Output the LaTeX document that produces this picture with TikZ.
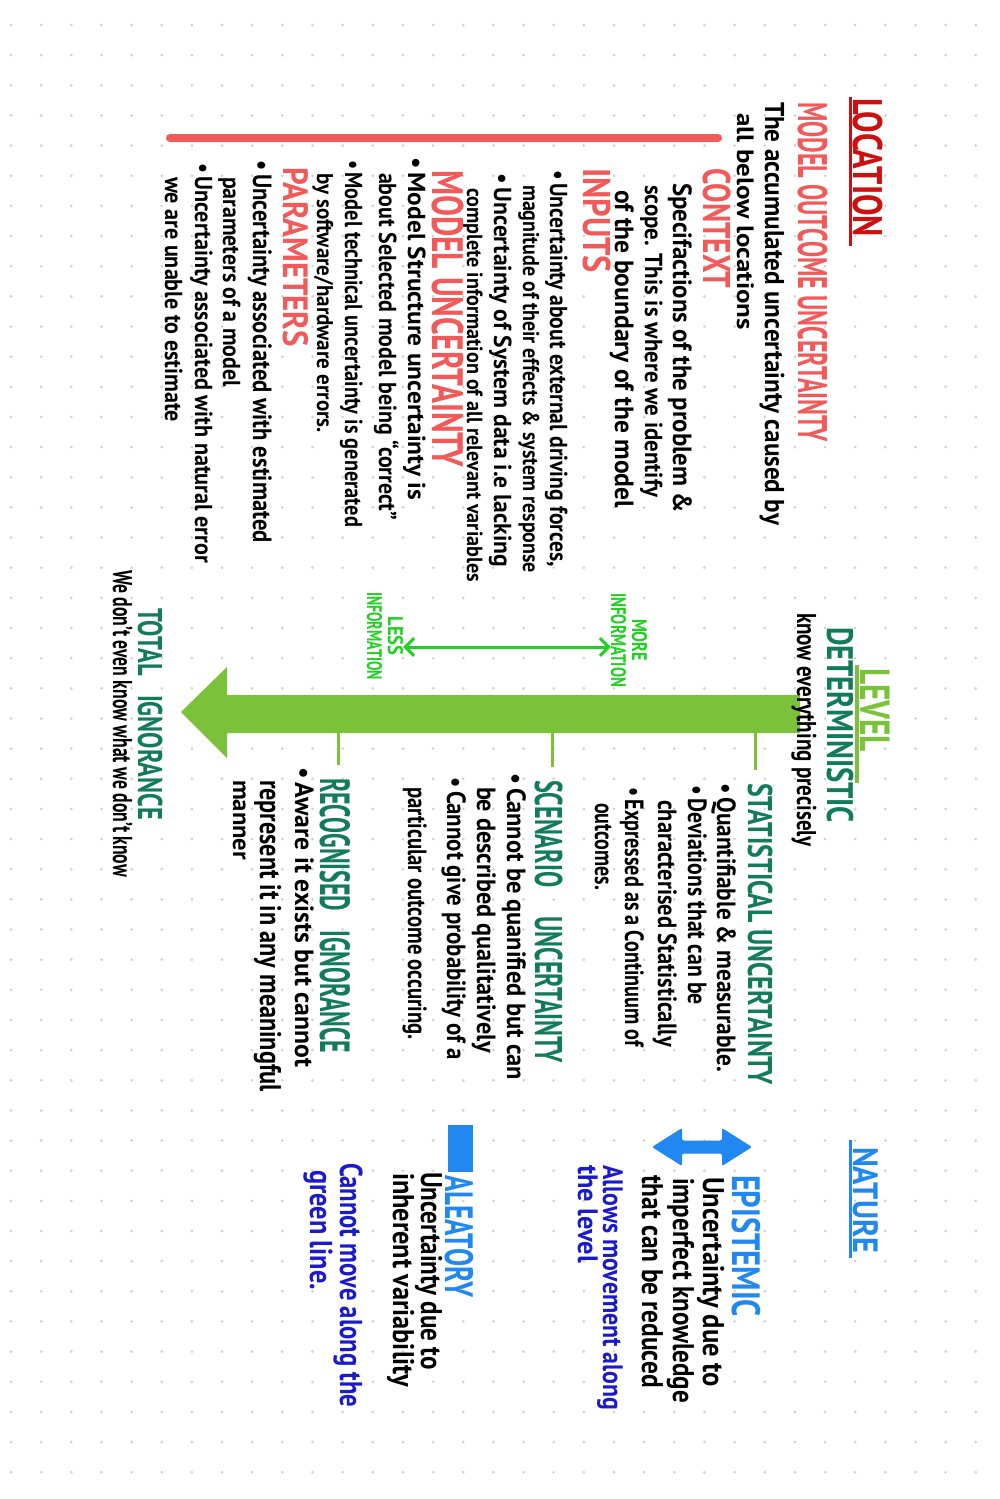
\documentclass[tikz,border=0pt]{standalone}
\usepackage{fontspec}
\setmainfont{PT Sans}
\usepackage{graphicx}
\usetikzlibrary{arrows.meta, calc}

\definecolor{locred}{HTML}{CC1010}
\definecolor{salmon}{HTML}{F25A5A}
\definecolor{lvlgreen}{HTML}{7BC23B}
\definecolor{lvlteal}{HTML}{127C5A}
\definecolor{infogreen}{HTML}{1FD21F}
\definecolor{natblue}{HTML}{2088F0}
\definecolor{darkblue}{HTML}{1A1ACC}
\definecolor{dotgray}{HTML}{D2D2D2}

% one pixel of the page
\newdimen\pxu \pxu=0.02cm
% squeeze a line to a given length (in pixels)
\newcommand{\fitw}[2]{\resizebox{#1\pxu}{\height}{#2}}

\tikzset{
  txt/.style={rotate=-90, anchor=base west, inner sep=0pt, outer sep=0pt},
  sz/.style={font=\fontsize{#1}{#1}\selectfont\bfseries},
  bsz/.style={font=\fontsize{#1}{#1}\selectfont\bfseries},
  tick/.style={lvlgreen, line width=3\pxu, shorten >=13\pxu}
}

\begin{document}
\begin{tikzpicture}[x=0.02cm, y=-0.02cm]
    % Page and dot grid
    \useasboundingbox (0,0) rectangle (1000,1499);
    \fill[white] (0,0) rectangle (1000,1499);
    \foreach \i in {0,...,32}
      \foreach \j in {0,...,48}
        \fill[dotgray] ({11+30.15*\i},{25+30.15*\j}) circle (0.03cm);

    % Location
    \node[txt, sz=23.5, text=locred] (loc) at (853,98) {\fitw{139}{LOCATION}};
    \draw[locred, line width=3\pxu] (850,97) -- (850,246);
    \node[txt, sz=23.5, text=salmon] (moutc) at (798,102) {\fitw{340}{MODEL OUTCOME UNCERTAINTY}};
    \node[txt, bsz=15.5] (moutcA) at (765,102) {\fitw{423}{The accumulated uncertainty caused by}};
    \node[txt, bsz=13.5] (moutcB) at (737,113) {\fitw{217}{all below locations}};
    \draw[salmon, line width=8\pxu, line cap=round] (170,138) -- (718,138);

    \node[txt, sz=22, text=salmon] (ctx) at (703,168) {\fitw{120}{CONTEXT}};
    \node[txt, bsz=15] (ctxA) at (673,183) {\fitw{330}{Specifactions of the problem \&}};
    \node[txt, bsz=14] (ctxB) at (645,185) {\fitw{312}{scope. This is where we identify}};
    \node[txt, bsz=15] (ctxC) at (615,190) {\fitw{318}{of the boundary of the model}};

    \node[txt, sz=22, text=salmon] (inp) at (583,168) {\fitw{105}{INPUTS}};
    \node[txt, bsz=14] (inpA) at (550,170) {\fitw{397}{\textbullet\,Uncertainty about external driving forces,}};
    \node[txt, bsz=13] (inpB) at (523,185) {\fitw{388}{magnitude of their effects \& system response}};
    \node[txt, bsz=14] (inpC) at (494,173) {\fitw{394}{\textbullet\,Uncertainty of System data i.e lacking}};
    \node[txt, bsz=12.5] (inpD) at (467,188) {\fitw{394}{complete information of all relevant variables}};

    \node[txt, sz=25, text=salmon] (mdl) at (432,170) {\fitw{297}{MODEL UNCERTAINTY}};
    \node[txt, bsz=14] (mdlA) at (408,157) {\fitw{343}{\textbullet\,Model Structure uncertainty is}};
    \node[txt, bsz=14] (mdlB) at (379,173) {\fitw{347}{about Selected model being ``correct''}};
    \node[txt, bsz=14] (mdlC) at (345,160) {\fitw{367}{\textbullet\,Model technical uncertainty is generated}};
    \node[txt, bsz=13] (mdlD) at (317,173) {\fitw{260}{by software/hardware errors.}};

    \node[txt, sz=20, text=salmon] (par) at (283,167) {\fitw{180}{PARAMETERS}};
    \node[txt, bsz=15] (parA) at (253,160) {\fitw{383}{\textbullet\,Uncertainty associated with estimated}};
    \node[txt, bsz=14] (parB) at (223,177) {\fitw{210}{parameters of a model}};
    \node[txt, bsz=14] (parC) at (195,163) {\fitw{400}{\textbullet\,Uncertainty associated with natural error}};
    \node[txt, bsz=14] (parD) at (165,177) {\fitw{245}{we are unable to estimate}};

    % Level: the big arrow
    \fill[lvlgreen] (800,695) -- (227,695) -- (227,667) -- (181,712) -- (227,758) -- (227,733) -- (800,733) -- cycle;
    \coordinate (tk1) at (755,733);
    \coordinate (tk2) at (552,733);
    \coordinate (tk3) at (338,733);

    \node[txt, sz=24, text=lvlgreen] (lvl) at (860,668) {\fitw{84}{LEVEL}};
    \draw[lvlgreen, line width=4\pxu] (857,665) -- (857,783);
    \node[txt, sz=21, text=lvlteal] (det) at (827,627) {\fitw{196}{DETERMINISTIC}};
    \node[txt, bsz=15.5] (detA) at (797,613) {\fitw{234}{know everything precisely}};

    \node[txt, bsz=12, anchor=center, align=center, text=infogreen] (more) at (629,640) {\fitw{42}{MORE}\\\fitw{94}{INFORMATION}};
    \node[txt, bsz=12, anchor=center, align=center, text=infogreen] (less) at (385,636) {\fitw{39}{LESS}\\\fitw{88}{INFORMATION}};
    \draw[infogreen, line width=3\pxu, {Straight Barb[length=5pt,width=10pt]}-{Straight Barb[length=5pt,width=10pt]}] ([yshift=-11\pxu]less.north) -- ([yshift=-7\pxu]more.south);

    \node[txt, sz=19.5, text=lvlteal] (stat) at (748,783) {\fitw{302}{STATISTICAL UNCERTAINTY}};
    \node[txt, bsz=15] (statA) at (717,783) {\fitw{289}{\textbullet\,Quantifiable \& measurable.}};
    \node[txt, bsz=15] (statB) at (688,785) {\fitw{220}{\textbullet\,Deviations that can be}};
    \node[txt, bsz=15] (statC) at (658,800) {\fitw{247}{characterised Statistically}};
    \node[txt, bsz=15] (statD) at (625,787) {\fitw{260}{\textbullet\,Expressed as a Continuum of}};
    \node[txt, bsz=15] (statE) at (595,803) {\fitw{87}{outcomes.}};

    \node[txt, sz=22, text=lvlteal] (scen) at (535,780) {\fitw{283}{SCENARIO\hspace{1.2em}UNCERTAINTY}};
    \node[txt, bsz=15] (scenA) at (507,773) {\fitw{307}{\textbullet\,Cannot be quanified but can}};
    \node[txt, bsz=15] (scenB) at (477,787) {\fitw{266}{be described qualitatively}};
    \node[txt, bsz=15] (scenC) at (447,777) {\fitw{283}{\textbullet\,Cannot give probability of a}};
    \node[txt, bsz=15] (scenD) at (408,787) {\fitw{253}{particular outcome occuring.}};

    \node[txt, sz=24, text=lvlteal] (recog) at (320,778) {\fitw{275}{RECOGNISED\hspace{0.8em}IGNORANCE}};
    \node[txt, bsz=15] (recA) at (295,767) {\fitw{300}{\textbullet\,Aware it exists but cannot}};
    \node[txt, bsz=17] (recB) at (260,780) {\fitw{312}{represent it in any meaningful}};
    \node[txt, bsz=14] (recC) at (233,780) {\fitw{80}{manner}};

    \node[txt, sz=19.5, text=lvlteal] (total) at (138,608) {\fitw{212}{TOTAL\hspace{0.8em}IGNORANCE}};
    \node[txt, bsz=15.5] (totalA) at (113,570) {\fitw{307}{We don't even know what we don't know}};

    % ticks from the arrow to the levels
    \draw[tick] (tk1) -- (tk1 |- stat.west);
    \draw[tick] (tk2) -- (tk2 |- scen.west);
    \draw[tick] (tk3) -- (tk3 |- recog.west);

    % Nature
    \node[txt, sz=20, text=natblue] (nat) at (853,1147) {\fitw{106}{NATURE}};
    \draw[natblue, line width=3\pxu] (850,1140) -- (850,1258);

    \fill[natblue, rounded corners=2\pxu] (652,1147) -- (682,1128) -- (682,1140.5) -- (722,1140.5) -- (722,1128) -- (752,1147) -- (722,1166) -- (722,1153.5) -- (682,1153.5) -- (682,1166) -- cycle;
    \node[txt, sz=22.5, text=natblue] (epi) at (732,1175) {\fitw{142}{EPISTEMIC}};
    \node[txt, bsz=17] (epiA) at (703,1177) {\fitw{210}{Uncertainty due to}};
    \node[txt, bsz=17] (epiB) at (673,1178) {\fitw{225}{imperfect knowledge}};
    \node[txt, bsz=17] (epiC) at (642,1175) {\fitw{213}{that can be reduced}};
    \node[txt, bsz=16, text=darkblue] (epiD) at (603,1165) {\fitw{245}{Allows movement along}};
    \node[txt, bsz=16, text=darkblue] (epiE) at (578,1165) {\fitw{98}{the level}};

    \fill[natblue] (448,1125) rectangle (473,1172);
    \node[txt, sz=22.5, text=natblue] (ale) at (445,1175) {\fitw{122}{ALEATORY}};
    \node[txt, bsz=17] (aleA) at (421,1172) {\fitw{198}{Uncertainty due to}};
    \node[txt, bsz=17] (aleB) at (393,1173) {\fitw{214}{inherent variability}};
    \node[txt, bsz=18, text=darkblue] (aleC) at (340,1163) {\fitw{244}{Cannot move along the}};
    \node[txt, bsz=18, text=darkblue] (aleD) at (310,1170) {\fitw{120}{green line.}};
\end{tikzpicture}
\end{document}
